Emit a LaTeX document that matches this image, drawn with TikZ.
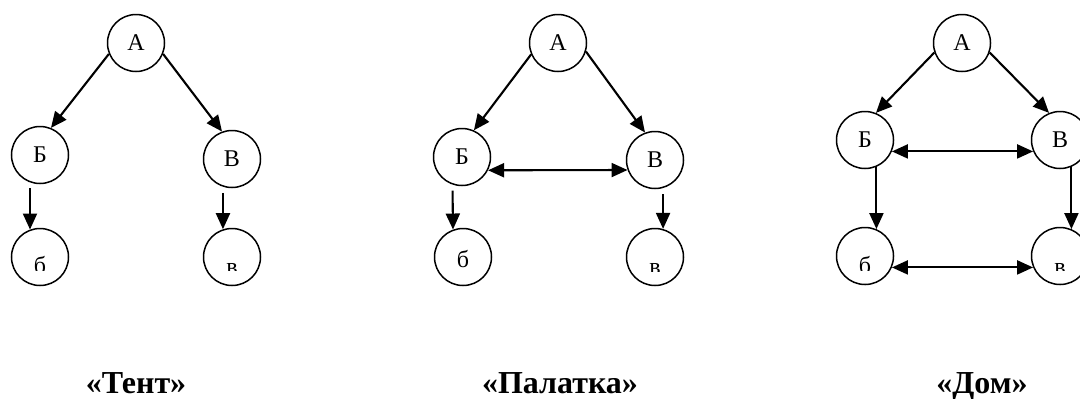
\documentclass[tikz,border=0pt]{standalone}
\usepackage{fontspec}
\setmainfont{Liberation Serif}
\usetikzlibrary{arrows.meta}
\begin{document}
\begin{tikzpicture}[x=0.5pt,y=-0.5pt,
  vert/.style={circle,draw,line width=0.75pt,minimum size=28.5pt,inner sep=0pt,font=\fontsize{12}{12}\selectfont},
  lett/.style={inner sep=0pt,anchor=base,font=\fontsize{12}{12}\selectfont},
  arr/.style={-{Triangle[length=8pt,width=7pt]},line width=1.05pt},
  darr/.style={{Triangle[length=8pt,width=7pt]}-{Triangle[length=8pt,width=7pt]},line width=1.05pt},
  capt/.style={anchor=base,inner sep=0pt,font=\fontsize{16}{16}\selectfont\bfseries}]
\useasboundingbox (0,0) rectangle (1080,398);
\clip (0,0) rectangle (1080,398);
% ---- Tent
\node[vert] (tA) at (136,43) {А};
\node[vert] (tB) at (40,155) {Б};
\node[vert] (tV) at (232,159) {В};
\node[vert] (tb) at (40,257) {};
\node[vert] (tv) at (232,257) {};
\begin{scope}
\clip (0,0) rectangle (1080,270);
\node[lett] (tbl) at (40,273) {б};
\node[lett] (tvl) at (232,274) {в};
\end{scope}
\draw[arr] (tA.202) -- (tB.68);
\draw[arr] (tA.338) -- (tV.110);
\draw[arr,shorten <=3pt] (tB.250) -- (tb.110);
\draw[arr,shorten <=3pt] (tV.252) -- (tv.108);
% ---- Palatka
\node[vert] (pA) at (558,43) {А};
\node[vert] (pB) at (462,157) {Б};
\node[vert] (pV) at (655,160) {В};
\node[vert] (pb) at (463,257) {};
\node[vert] (pv) at (655,257) {};
\node[lett] (pbl) at (463,267) {б};
\begin{scope}
\clip (0,0) rectangle (1080,271);
\node[lett] (pvl) at (655,274) {в};
\end{scope}
\draw[arr] (pA.203) -- (pB.66);
\draw[arr] (pA.343) -- (pV.110);
\draw[darr] (pB.333) -- (pV.200);
\draw[arr,shorten <=3pt] (pB.251) -- (pb.110);
\draw[arr,shorten <=3pt] (pV.286) -- (pv.74);
% ---- Dom
\node[vert] (dA) at (962,43) {А};
\node[vert] (dB) at (865,140) {Б};
\node[vert] (dV) at (1060,140) {В};
\node[vert] (db) at (865,256) {};
\node[vert] (dv) at (1060,256) {};
\begin{scope}
\clip (0,0) rectangle (1080,270);
\node[lett] (dbl) at (865,273) {б};
\node[lett] (dvl) at (1060,274) {в};
\end{scope}
\draw[arr] (dA.199) -- (dB.68);
\draw[arr] (dA.341) -- (dV.112);
\draw[darr] (dB.337) -- (dV.203);
\draw[darr] (db.337) -- (dv.203);
\draw[arr] (dB.293) -- (db.67);
\draw[arr] (dV.293) -- (dv.67);
% ---- captions
\node[capt] (c1) at (136,393) {«Тент»};
\node[capt] (c2) at (560,393) {«Палатка»};
\node[capt] (c3) at (982,393) {«Дом»};
\end{tikzpicture}
\end{document}
